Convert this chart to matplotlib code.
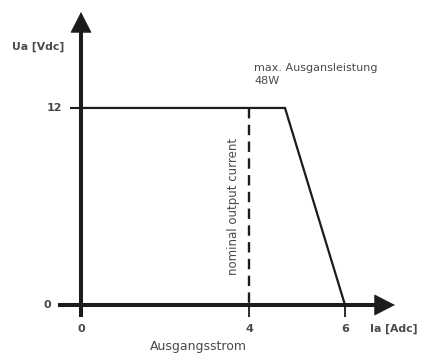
import numpy as np
import matplotlib
matplotlib.use("Agg")
import matplotlib.pyplot as plt

# data
curve_x = [0, 4.75, 6]
curve_y = [12, 12, 0]
nominal_current = 4
x_ticks = [0, 4, 6]
y_ticks = [0, 12]
x_tick_labels = ["0", "4", "6"]
y_tick_labels = ["0", "12"]

AX = "#1c1c1c"
TXT = "#4a4a4a"

def fwd(x):
    x = np.asarray(x, dtype=float)
    return np.where(x <= 4, x, 4 + (x - 4) * 48 / 42)

def inv(u):
    u = np.asarray(u, dtype=float)
    return np.where(u <= 4, u, 4 + (u - 4) * 42 / 48)

fig = plt.figure(figsize=(4.24, 3.54), dpi=100)
ax = fig.add_axes([0, 0, 1, 1])
ax.set_xscale("function", functions=(fwd, inv))
ax.set_xlim(-81 / 42, float(inv((424 - 81) / 42)))
ax.set_ylim(-49 / 16.42, (354 - 49) / 16.42)
ax.axis("off")

# axes lines
ax.plot([0, 0], [-0.73, 16.9], color=AX, lw=2.9, solid_capstyle="butt")
ax.plot([-0.55, 6.7], [0, 0], color=AX, lw=2.9, solid_capstyle="butt")
# arrow heads
head = dict(arrowstyle="-|>,head_length=0.7,head_width=0.36", lw=0.5,
            color=AX, shrinkA=0, shrinkB=0, mutation_scale=20)
ax.annotate("", xy=(0, 17.84), xytext=(0, 15.0), arrowprops=head)
ax.annotate("", xy=(7.04, 0), xytext=(6.3, 0), arrowprops=head)

# ticks
ax.plot([-0.26, 0], [12, 12], color=AX, lw=1.5, solid_capstyle="butt")
for xv in x_ticks[1:]:
    ax.plot([xv, xv], [-0.73, 0], color=AX, lw=1.3, solid_capstyle="butt")

# characteristic curve
ax.plot(curve_x, curve_y, color=AX, lw=1.6, solid_joinstyle="miter")

# nominal current dashed line
ax.plot([nominal_current, nominal_current], [12, 0], color=AX, lw=1.7,
        dashes=(4.4, 2.7))

# tick labels
for xv, lab in zip(x_ticks, x_tick_labels):
    ax.text(xv, -1.46, lab, ha="center", va="center", fontsize=8,
            fontweight="bold", color=TXT)
ax.text(-0.70, 0, y_tick_labels[0], ha="right", va="center", fontsize=8,
        fontweight="bold", color=TXT)
ax.text(-0.45, 12, y_tick_labels[1], ha="right", va="center", fontsize=8,
        fontweight="bold", color=TXT)

# axis labels
ax.text(-0.40, 15.71, "Ua [Vdc]", ha="right", va="center", fontsize=7.8,
        fontweight="bold", color=TXT)
ax.text(6.52, -1.46, "Ia [Adc]", ha="left", va="center", fontsize=7.8,
        fontweight="bold", color=TXT)
ax.text(2.79, -2.72, "Ausgangsstrom", ha="center", va="baseline", fontsize=9,
        color=TXT)

# annotations
ax.text(4.105, 14.04, "max. Ausgansleistung\n48W", ha="left", va="center",
        fontsize=8, color=TXT, linespacing=1.3)
ax.text(3.62, 6.03, "nominal output current", ha="center", va="center",
        rotation=90, fontsize=8.5, color=TXT)

fig.savefig("out.png", dpi=100)
